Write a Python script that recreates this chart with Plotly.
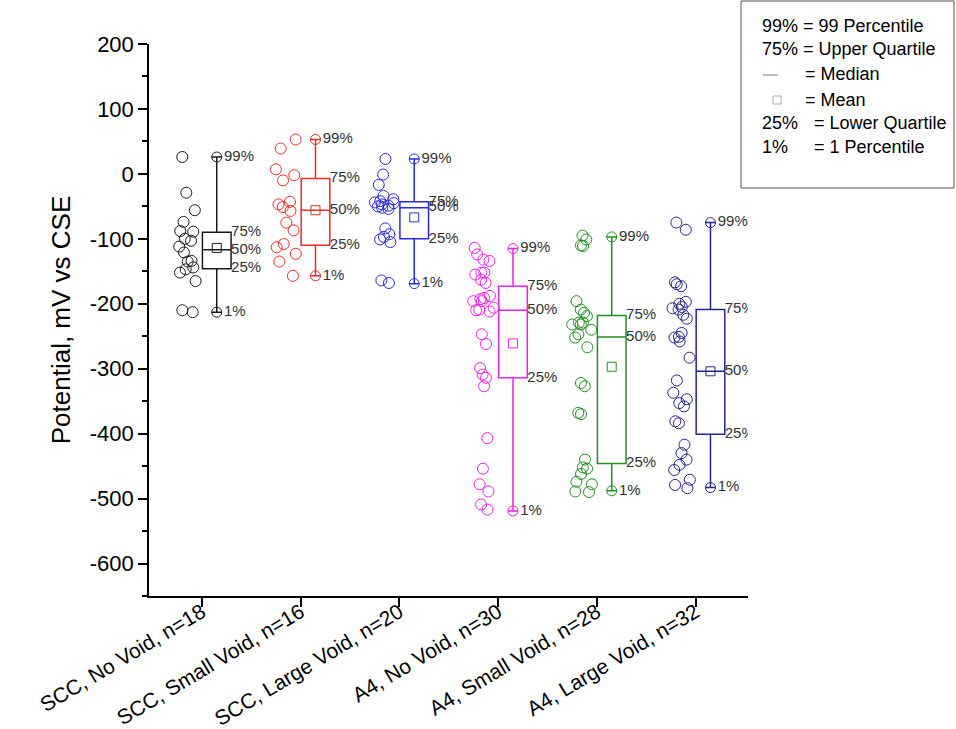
import plotly.graph_objects as go

# ---- data ----
categories = ["SCC, No Void, n=18", "SCC, Small Void, n=16", "SCC, Large Void, n=20",
              "A4, No Void, n=30", "A4, Small Void, n=28", "A4, Large Void, n=32"]

g1 = [26, -29, -56, -74, -88, -89, -100, -103, -112, -121, -134, -135, -144, -147, -152, -165, -210, -213]
g2 = [53, 39, 7, -2, -10, -43, -47, -51, -57, -75, -87, -108, -113, -123, -135, -157]
g3 = [23, -1, -17, -34, -39, -42, -44, -45, -47, -49, -50, -52, -54, -84, -93, -97, -101, -105, -164, -168]
g4 = [-114, -124, -132, -134, -152, -152, -155, -163, -168, -188, -191, -193, -196, -196, -206, -209,
      -210, -212, -247, -262, -299, -309, -314, -327, -407, -454, -478, -489, -509, -517]
g5 = [-95, -101, -110, -111, -196, -209, -214, -219, -229, -229, -232, -232, -240, -247, -252, -267,
      -322, -327, -368, -370, -440, -452, -454, -462, -474, -478, -489, -490]
g6 = [-75, -86, -167, -170, -173, -197, -200, -205, -207, -209, -217, -223, -245, -251, -252, -258,
      -283, -318, -337, -347, -353, -358, -381, -384, -417, -430, -440, -448, -456, -471, -479, -484]
groups = [g1, g2, g3, g4, g5, g6]

# box statistics as drawn in the reference
p99 = [26, 53, 23, -115, -97, -75]
q3 = [-90, -7, -43, -173, -218, -209]
med = [-117, -56, -52, -210, -251, -304]
q1 = [-146, -110, -100, -314, -446, -401]
p1 = [-213, -157, -169, -519, -488, -483]
means = [-114, -56, -67, -261, -297, -304]

yticks = [200, 100, 0, -100, -200, -300, -400, -500, -600]

# ---- styles ----
colors = ["#1a1a1a", "#e3302a", "#2b2bdc", "#ec22ec", "#238f23", "#262690"]
FONT = "Liberation Sans, Arial, sans-serif"
LABEL_COLOR = "#333333"
BOX_W = 0.29
BOX_SHIFT = 0.15

fig = go.Figure()

for i, (vals, col) in enumerate(zip(groups, colors)):
    cx = i + 1
    bx = cx + BOX_SHIFT
    # raw points (box hidden), jittered by plotly to the left of the box
    fig.add_trace(go.Box(
        x0=bx, y=vals, width=BOX_W, boxpoints="all", jitter=0.9, pointpos=-2.0,
        line=dict(width=0, color="rgba(0,0,0,0)"), fillcolor="rgba(0,0,0,0)",
        whiskerwidth=0,
        marker=dict(symbol="circle-open", size=11, color=col, line=dict(width=1, color=col)),
        showlegend=False, hoverinfo="y",
    ))
    # box from the statistics
    fig.add_trace(go.Box(
        x=[bx], q1=[q1[i]], median=[med[i]], q3=[q3[i]],
        lowerfence=[p1[i]], upperfence=[p99[i]],
        width=BOX_W, whiskerwidth=0.36, boxpoints=False,
        line=dict(color=col, width=1.5), fillcolor="rgba(0,0,0,0)",
        showlegend=False,
    ))
    # mean
    fig.add_trace(go.Scatter(
        x=[bx], y=[means[i]], mode="markers",
        marker=dict(symbol="square-open", size=9, color=col, line=dict(width=1, color=col)),
        showlegend=False,
    ))
    # percentile circles with labels
    fig.add_trace(go.Scatter(
        x=[bx, bx], y=[p99[i], p1[i]], mode="markers+text",
        text=["99%", "1%"], textposition="middle right",
        textfont=dict(family=FONT, size=15, color=LABEL_COLOR),
        marker=dict(symbol="circle-open", size=10, color=col, line=dict(width=1, color=col)),
        showlegend=False, cliponaxis=True,
    ))
    # quartile labels
    fig.add_trace(go.Scatter(
        x=[bx + BOX_W / 2] * 3, y=[q3[i], med[i], q1[i]], mode="text",
        text=["75%", "50%", "25%"], textposition="middle right",
        textfont=dict(family=FONT, size=15, color=LABEL_COLOR),
        showlegend=False, cliponaxis=True,
    ))

L, T, R, B = 149, 44, 208, 133
W, H = 956, 729
PW, PH = W - L - R, H - T - B


def px(x):
    return (x - L) / PW


def py(y):
    return (H - B - y) / PH


fig.update_layout(
    width=W, height=H,
    margin=dict(l=L, r=R, t=T, b=B, pad=0, autoexpand=False),
    paper_bgcolor="white", plot_bgcolor="white",
    boxmode="overlay",
    font=dict(family=FONT, color="black"),
    xaxis=dict(
        range=[0.464, 6.53], tickmode="array", tickvals=[1, 2, 3, 4, 5, 6], ticktext=categories,
        tickangle=-31, tickfont=dict(size=21, color="black"), automargin=False,
        ticklabelstandoff=-15,
        showline=True, linecolor="black", linewidth=1.5,
        ticks="outside", ticklen=9, tickwidth=1.5, tickcolor="black",
        showgrid=False, zeroline=False,
    ),
    yaxis=dict(
        range=[-650, 200], tickmode="array", tickvals=yticks, ticktext=[str(v) for v in yticks],
        tickfont=dict(size=22, color="black"), automargin=False,
        showline=True, linecolor="black", linewidth=1.5,
        ticks="outside", ticklen=9, tickwidth=1.5, tickcolor="black",
        minor=dict(dtick=50, tick0=0, ticks="outside", ticklen=5, tickwidth=1.5, tickcolor="black"),
        showgrid=False, zeroline=False,
        title=dict(text="Potential, mV vs CSE", font=dict(size=26, color="black"), standoff=12),
    ),
)

# ---- explanatory box (top right) ----
fig.add_shape(type="rect", xref="paper", yref="paper",
              x0=px(741), x1=px(954), y0=py(188), y1=py(1),
              line=dict(color="#555555", width=1), fillcolor="white", layer="above")

leg_font = dict(family=FONT, size=18, color="black")
leg_rows = [
    (26, 760, "99% = 99 Percentile"),
    (49, 760, "75% = Upper Quartile"),
    (74, 803, "= Median"),
    (100, 803, "= Mean"),
    (123, 760, "25%"),
    (123, 812, "= Lower Quartile"),
    (147, 760, "1%"),
    (147, 812, "= 1 Percentile"),
]
for yy, xx, txt in leg_rows:
    fig.add_annotation(xref="paper", yref="paper", x=px(xx), y=py(yy), text=txt,
                       showarrow=False, xanchor="left", yanchor="middle", font=leg_font)

fig.add_shape(type="line", xref="paper", yref="paper",
              x0=px(763), x1=px(778), y0=py(75), y1=py(75),
              line=dict(color="#777777", width=1), layer="above")
fig.add_shape(type="rect", xref="paper", yref="paper",
              x0=px(773), x1=px(781), y0=py(104), y1=py(96),
              line=dict(color="#aaaaaa", width=1), layer="above")

fig.write_html("out.html")
